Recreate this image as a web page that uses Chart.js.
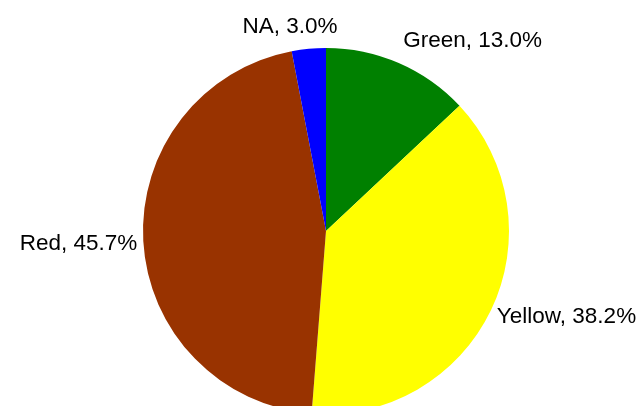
<!DOCTYPE html>
<html>
<head>
<meta charset="utf-8">
<script src="https://cdn.jsdelivr.net/npm/chart.js@4/dist/chart.umd.min.js"></script>
<style>
  html, body { margin: 0; padding: 0; background: #fff; overflow: hidden; }
  #wrap { width: 642px; height: 414px; position: relative; }
</style>
</head>
<body>
<div id="wrap"><canvas id="c" width="642" height="414"></canvas></div>
<script>
const categories = ["Green", "Yellow", "Red", "NA"];
const percentages = [13.0, 38.2, 45.7, 3.0];
const sliceColors = ["#008000", "#FFFF00", "#993300", "#0000FF"];

// label placement tweaks (pixels), styling only
const labelNudgeX = [-1, -1, 0, -4];
const labelNudgeY = [-4, 0, 1, -1];

const FONT_SIZE = 22.5;
const FONT = FONT_SIZE + 'px "Liberation Sans", Arial, sans-serif';

const outsideLabels = {
  id: 'outsideLabels',
  afterDatasetsDraw(chart) {
    const ctx = chart.ctx;
    const meta = chart.getDatasetMeta(0);
    ctx.save();
    ctx.font = FONT;
    ctx.fillStyle = '#000';
    ctx.textAlign = 'left';
    ctx.textBaseline = 'alphabetic';
    const capH = 0.716 * FONT_SIZE;
    const clamp = v => Math.max(0, Math.min(1, v));
    meta.data.forEach((arc, i) => {
      const p = arc.getProps(['x', 'y', 'startAngle', 'endAngle', 'outerRadius'], true);
      const mid = (p.startAngle + p.endAngle) / 2;
      const ux = Math.cos(mid), uy = Math.sin(mid);
      const g = 6 + 9 * uy * uy;
      const ax = p.x + (p.outerRadius + g) * ux;
      const ay = p.y + (p.outerRadius + g) * uy;
      const text = categories[i] + ', ' + percentages[i].toFixed(1) + '%';
      const w = ctx.measureText(text).width;
      const hx = clamp(0.5 - 1.5 * ux);
      const hy = clamp(0.5 - Math.pow(uy, 3));
      const left = ax - hx * w + labelNudgeX[i];
      const top = ay - hy * capH + labelNudgeY[i];
      ctx.fillText(text, left, top + capH);
    });
    ctx.restore();
  }
};

new Chart(document.getElementById('c'), {
  type: 'pie',
  data: {
    labels: categories,
    datasets: [{
      data: percentages,
      backgroundColor: sliceColors,
      borderWidth: 0
    }]
  },
  options: {
    responsive: false,
    animation: false,
    layout: { padding: { left: 10, right: 0, top: 48, bottom: 0 } },
    plugins: {
      legend: { display: false },
      tooltip: { enabled: false }
    }
  },
  plugins: [outsideLabels]
});
</script>
</body>
</html>
